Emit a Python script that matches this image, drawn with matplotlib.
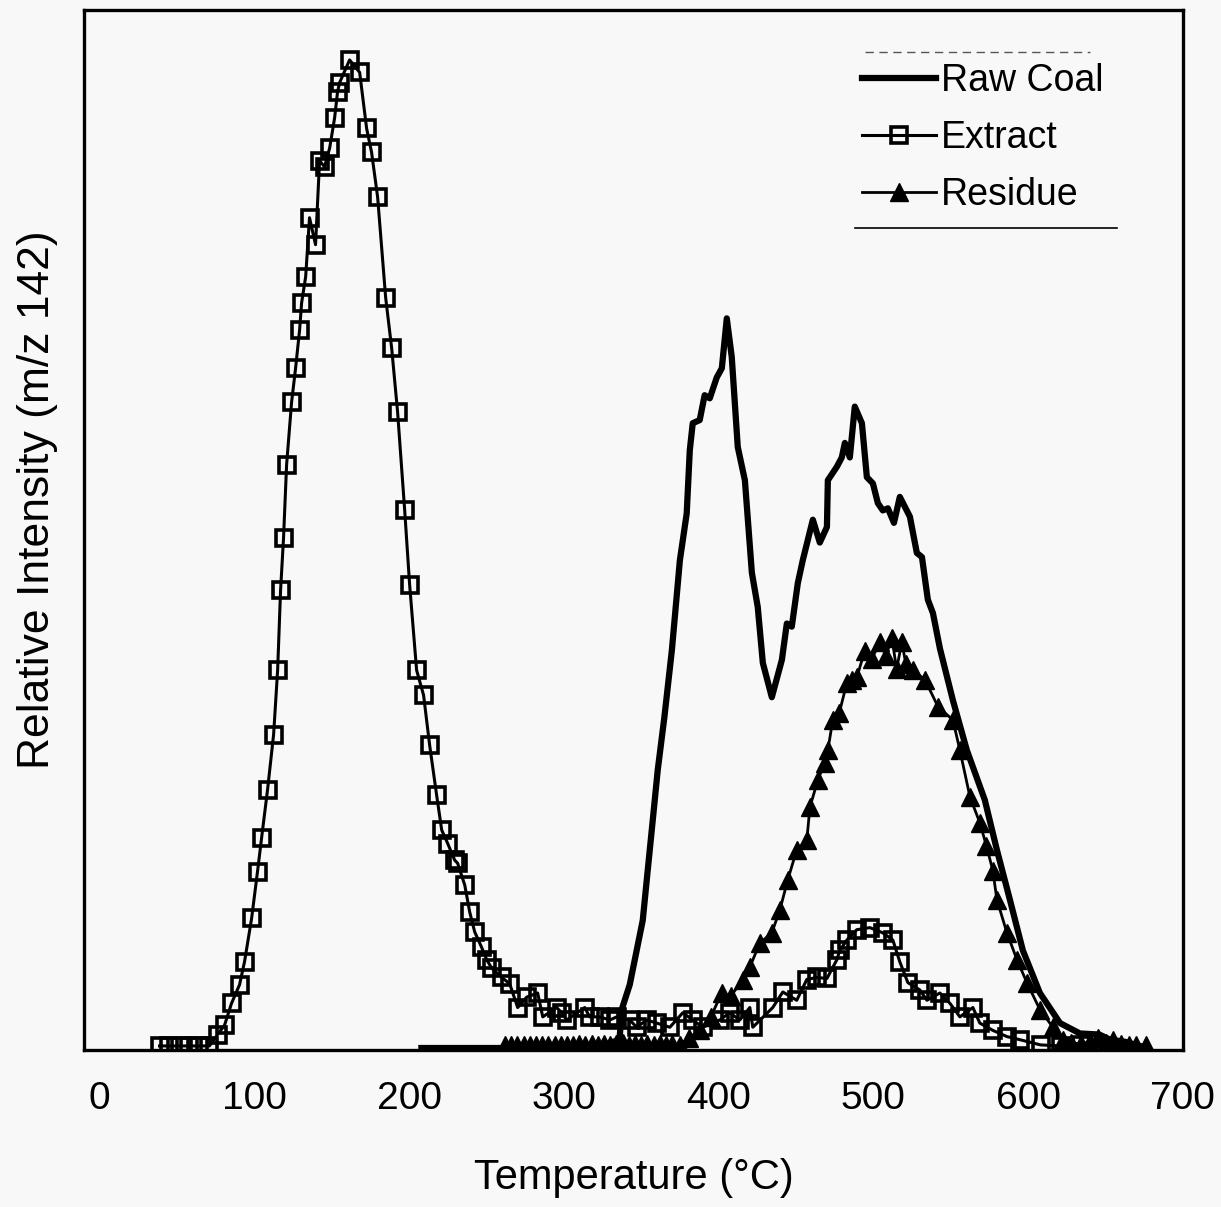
import matplotlib
matplotlib.use("Agg")
import matplotlib.pyplot as plt

# ---------------- data ----------------
extract_x = [38.8, 45, 51.7, 58, 64, 71, 76.3, 80.8, 85.3, 90.5, 93.7, 98.3, 102.1, 104.7,
             108.6, 112.5, 115.1, 117, 118.9, 120.9, 124.1, 126.7, 129.3, 130.6, 133.2,
             135.7, 139.6, 142.2, 145.4, 148.7, 151.9, 153.8, 155.1, 161.6, 168.1, 172.6,
             175.8, 179.7, 184.9, 188.8, 192.6, 197.2, 200.4, 204.9, 209.4, 213.3, 217.8,
             221.1, 225, 229.5, 231.4, 236, 239.2, 242.4, 246.9, 250.2, 253.4, 259.9, 265,
             270.2, 276, 283.1, 286.4, 295.4, 298.6, 301.9, 313.5, 316.7, 323.2, 329.7,
             334.2, 342.6, 347.1, 353.6, 360, 368.5, 376.9, 383.3, 389.8, 400.8, 407.2,
             413.7, 420.2, 422.1, 435, 441.5, 450.5, 457, 463.5, 470, 476.4, 478.3, 482.9,
             489.3, 497.7, 506.1, 512.6, 517.1, 522.3, 530, 534.6, 543, 549.5, 555.9,
             564.3, 568.8, 577.2, 586.3, 594.7, 608, 621, 634]
extract_y = [0.2, 0.2, 0.2, 0.2, 0.2, 0.2, 1.3, 2.2, 4.3, 6.1, 8.3, 12.5, 17, 20.2,
             24.9, 30.2, 36.4, 44.1, 49.1, 56.2, 62.2, 65.5, 69.2, 71.8, 74.3,
             80.0, 77.4, 85.5, 84.9, 86.7, 89.6, 92.1, 93.0, 95.2, 94.0, 88.6,
             86.3, 82.0, 72.3, 67.4, 61.3, 51.8, 44.6, 36.4, 34, 29.2, 24.4,
             21, 19.7, 18.1, 17.8, 15.7, 13.1, 11.2, 9.7, 8.5, 7.7, 6.8, 6.2,
             3.9, 4.9, 5.3, 3.0, 3.9, 3.4, 2.7, 3.9, 3.0, 3.0, 2.7,
             3.0, 2.7, 2.0, 2.7, 2.4, 2.0, 3.4, 2.7, 2.0, 2.7, 3.4,
             2.7, 3.9, 2.0, 3.9, 5.4, 4.6, 6.6, 6.8, 6.7, 8.5, 9.4, 10.4,
             11.4, 11.6, 11.1, 10.4, 8.3, 6.3, 5.6, 4.6, 5.3, 4.3, 3.0,
             3.9, 2.4, 1.7, 1.1, 0.8, 0.3, 0.2, 0.3]

raw_x = [208, 230, 260, 290, 320, 336, 337.4, 342.6, 351, 354.2, 357.5, 360.7, 365,
         369.8, 375, 379.4, 381.4, 383.3, 387.8, 391, 394.3, 398.8, 402.1, 405.3,
         408.5, 412.4, 417, 421.5, 425.3, 428.6, 434.4, 440.9, 444.1, 447.3, 451.2,
         454.4, 460.9, 465.4, 470, 470.6, 476.4, 479.6, 481.6, 484.8, 488, 492.6,
         495.8, 499.7, 502.9, 506.1, 509.4, 513.3, 517.1, 523.6, 528.1, 531.4,
         535.2, 538.5, 543, 551.4, 560.4, 572, 579.8, 588.2, 596.6, 607.6, 620.6,
         633.5, 646, 653, 662.6, 672]
raw_y = [0, 0, 0, 0, 0, 0.8, 3.7, 6.1, 12.3, 17.1, 22, 26.8, 31.9,
         38.3, 47, 51.5, 57.6, 60.2, 60.5, 62.9, 62.6, 64.6, 65.5, 70.3,
         66.6, 57.9, 54.7, 45.8, 42.5, 37.1, 33.8, 37.4, 40.9, 40.6, 44.8,
         47, 50.9, 48.7, 50.2, 54.7, 56, 56.9, 58.3, 56.9, 61.8, 60.2,
         55, 54.4, 52.5, 51.8, 52, 50.6, 53.1, 51.2, 47.7, 47.3,
         43.2, 41.9, 38.5, 33.5, 28.7, 23.9, 19.1, 14.3, 9.4, 5.3, 2.4,
         1.4, 1.3, 0.8, 0.6, 0.2]

residue_x = [262, 266, 270, 274, 278, 282, 286, 290, 294, 298, 302, 306, 310, 314, 318,
             322, 326, 330, 334, 338, 342, 346, 350, 354, 358, 362, 366, 370, 375, 381,
             387.8, 395, 402, 408, 415.6, 420.2, 426.6, 434.4, 439.6, 444.7, 450.5, 457,
             459, 464.1, 468.6, 470.6, 473.8, 478, 482.9, 486.1, 489.3, 494.5, 499,
             504.2, 508, 512, 515, 518.4, 521, 525.5, 533.3, 541.7, 551.4, 555.9, 562.4,
             568.8, 573, 577.2, 579.8, 586.3, 592.8, 599.2, 607.6, 616, 622.5, 628, 634,
             640, 645, 650, 655, 660, 665, 670, 676]
residue_y = [0.3, 0.3, 0.3, 0.3, 0.3, 0.3, 0.3, 0.3, 0.3, 0.3, 0.3, 0.3, 0.4, 0.3, 0.4,
             0.3, 0.4, 0.3, 0.4, 0.5, 0.3, 0.4, 0.3, 0.4, 0.3, 0.4, 0.3, 0.4, 0.3, 1.0,
             1.7, 3.0, 5.3, 5.0, 6.6, 7.8, 10.1, 11.1, 13.3, 16.2, 19.1, 20,
             23.2, 25.8, 27.5, 28.7, 31.6, 32.3, 35.2, 35.5, 35.7, 38.3, 37.5,
             39.1, 37.8, 39.5, 36.5, 39.1, 37, 36.4, 35.5, 32.9, 31.6, 28.7, 24.2,
             21.7, 19.5, 17.1, 14.3, 11.1, 8.5, 6.3, 3.7, 2.0, 0.8, 0.5, 0.4,
             0.6, 1.0, 0.5, 0.8, 0.4, 0.3, 0.3, 0.3]

x_ticks = [0, 100, 200, 300, 400, 500, 600, 700]
labels = ["Raw Coal", "Extract", "Residue"]

# ---------------- figure ----------------
plt.rcParams['font.family'] = ['Liberation Sans', 'DejaVu Sans']
bg = '#f8f8f8'
fig = plt.figure(figsize=(12.21, 12.07), dpi=100, facecolor=bg)
ax = fig.add_axes([0.0688, 0.130, 0.900, 0.8616], facecolor=bg)

ax.plot(raw_x, raw_y, color='black', lw=4.5, label=labels[0], zorder=3)
ax.plot(extract_x, extract_y, color='black', lw=2.2, marker='s', ms=11,
        mfc='none', mec='black', mew=2.6, label=labels[1], zorder=4)
ax.plot(residue_x, residue_y, color='black', lw=2.0, marker='^', ms=12.5,
        mfc='black', mec='black', label=labels[2], zorder=5)

ax.set_xlim(-10, 700)
ax.set_ylim(-0.2, 100)
ax.set_xticks(x_ticks)
ax.set_xticklabels([str(t) for t in x_ticks])
ax.set_yticks([])
ax.tick_params(axis='x', length=0, pad=22, labelsize=28)
for s in ax.spines.values():
    s.set_linewidth(2.4)
    s.set_color('black')

ax.set_xlabel("Temperature (°C)", fontsize=30, labelpad=30)
ax.set_ylabel("Relative Intensity (m/z 142)", fontsize=32)
ax.yaxis.set_label_coords(-0.024, 0.529)

leg = ax.legend(loc='upper left', bbox_to_anchor=(0.708, 0.949), frameon=False,
                fontsize=27, handlelength=1.98, handletextpad=0.12,
                labelspacing=0.56, borderpad=0, borderaxespad=0)

# remnants of the legend box (top broken line, bottom line)
ax.plot([0.7106, 0.9154], [0.9596, 0.9596], transform=ax.transAxes, color='#555555',
        lw=1.0, ls=(0, (6, 4)), clip_on=False)
ax.plot([0.7016, 0.94], [0.7904, 0.7904], transform=ax.transAxes, color='black',
        lw=1.2, clip_on=False)

fig.savefig("out.png", dpi=100, facecolor=bg)
